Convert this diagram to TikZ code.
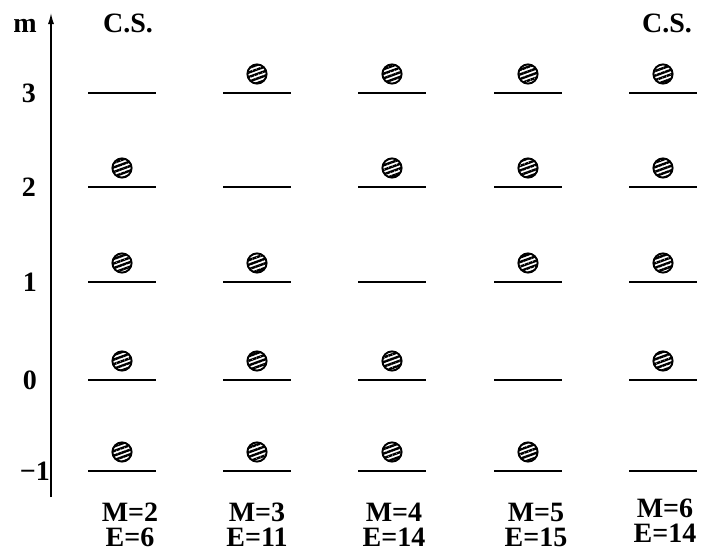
\documentclass[tikz,border=0pt]{standalone}
\usepackage{fontspec}
\setmainfont{Liberation Serif}
\usetikzlibrary{arrows.meta,patterns.meta}

\tikzset{
  level/.style={line width=1.8pt},
  ball/.style={draw,line width=1.9pt,
    pattern={Lines[angle=20,distance=4.3pt,line width=2.4pt]}},
  lab/.style={inner sep=0pt,font=\fontsize{28}{28}\selectfont\bfseries},
  mlab/.style={inner sep=0pt,anchor=north,align=center,
    font=\fontsize{28}{24.5}\selectfont\bfseries}
}

\begin{document}
\begin{tikzpicture}[x=1pt,y=-1pt]
  \useasboundingbox (0,0) rectangle (702,552);
  % m axis
  \coordinate (bot) at (51,497);
  \coordinate (top) at (51,13);
  \draw[line width=1.3pt,-{Latex[length=11pt,width=6pt]}] (bot) -- (top);
  \node[lab,anchor=base] (m) at (25,32) {m};
  \node[lab,anchor=base] (cs1) at (128,32) {C.S.};
  \node[lab,anchor=base] (cs5) at (667,32) {C.S.};
  % level numbers
  \foreach \n/\y/\t/\xr in {3/93/3/36,2/187/2/36,1/282/1/37,0/380/0/37,m1/471/{−1}/50}
    \node[lab,anchor=base east] (l\n) at (\xr,\y+9) {\t};
  % columns: the empty level of column c is level c
  \foreach \c/\x/\lx/\e/\ty in {1/122/130/6/503,2/257/257/11/503,
      3/392/394/14/503,4/528/536/15/503,5/663/665/14/499}{
    \pgfmathtruncatemacro\mm{\c+1}
    \node[mlab] (c\c) at (\lx,\ty) {M=\mm\\E=\e};
    \foreach \k/\y in {1/93,2/187,3/282,4/380,5/471}{
      \draw[level] (\x-34,\y) -- (\x+34,\y);
      \ifnum\k=\c\else \draw[ball] (\x,\y-19) circle (9.6); \fi
    }
  }
\end{tikzpicture}
\end{document}
